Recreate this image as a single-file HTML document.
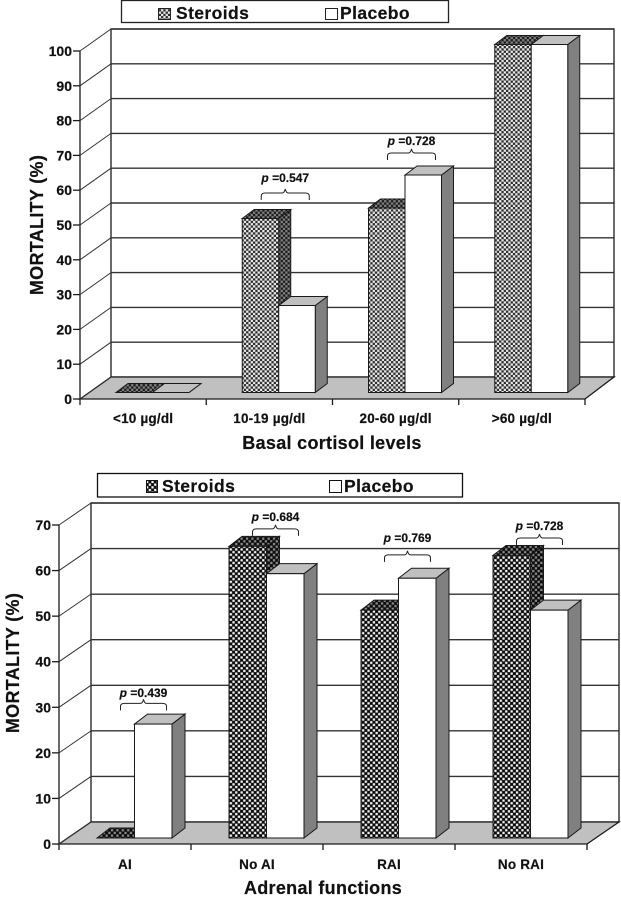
<!DOCTYPE html>
<html lang="en">
<head>
<meta charset="utf-8">
<title>Mortality by cortisol level and adrenal function</title>
<style>
html,body{margin:0;padding:0;background:#fff;}
svg{display:block;font-family:"Liberation Sans",Arial,sans-serif;}
text{fill:#111;font-weight:bold;stroke:#111;stroke-width:0.2;}
</style>
</head>
<body>
<svg id="figure" width="621" height="900" viewBox="0 0 621 900" xmlns="http://www.w3.org/2000/svg">
  <defs>
    <pattern id="dots-a" width="4.6" height="4.6" patternUnits="userSpaceOnUse">
      <rect width="4.6" height="4.6" fill="#2e2e2e"/>
      <rect x="0" y="0" width="2.3" height="2.3" fill="#e8e8e8"/>
      <rect x="2.3" y="2.3" width="2.3" height="2.3" fill="#e8e8e8"/>
    </pattern>
    <pattern id="dots-a-dark" width="4.6" height="4.6" patternUnits="userSpaceOnUse">
      <rect width="4.6" height="4.6" fill="#1c1c1c"/>
      <rect x="0" y="0" width="2.3" height="2.3" fill="#808080"/>
      <rect x="2.3" y="2.3" width="2.3" height="2.3" fill="#808080"/>
    </pattern>
    <pattern id="dots-b" width="5.4" height="5.4" patternUnits="userSpaceOnUse">
      <rect width="5.4" height="5.4" fill="#0c0c0c"/>
      <rect x="0.2" y="0.2" width="2.3" height="2.3" fill="#f4f4f4"/>
      <rect x="2.9" y="2.9" width="2.3" height="2.3" fill="#f4f4f4"/>
    </pattern>
    <pattern id="dots-b-dark" width="5.4" height="5.4" patternUnits="userSpaceOnUse">
      <rect width="5.4" height="5.4" fill="#0c0c0c"/>
      <rect x="0.2" y="0.2" width="2.3" height="2.3" fill="#8a8a8a"/>
      <rect x="2.9" y="2.9" width="2.3" height="2.3" fill="#8a8a8a"/>
    </pattern>
  </defs>

  <g id="chart-top"></g>
  <g id="chart-bottom"></g>

  <g>
    <rect x="121.5" y="0.5" width="327" height="22" fill="#fff" stroke="#222" stroke-width="1.3"/>
    <rect x="158.5" y="8.5" width="12" height="11" fill="url(#dots-a)" stroke="#222"/>
    <text x="176" y="19" font-size="17.5" letter-spacing="0.4">Steroids</text>
    <rect x="325.5" y="8.5" width="12" height="11" fill="#fff" stroke="#222"/>
    <text x="340" y="19" font-size="17.5" letter-spacing="0.4">Placebo</text>
  </g>
  <g>
    <rect x="97.5" y="473.5" width="365" height="23.5" fill="#fff" stroke="#111" stroke-width="1.3"/>
    <rect x="146.5" y="480.5" width="11" height="12" fill="url(#dots-b)" stroke="#111"/>
    <text x="162" y="492" font-size="17.5" letter-spacing="0.4">Steroids</text>
    <rect x="329.5" y="480.5" width="12" height="12" fill="#fff" stroke="#111"/>
    <text x="344" y="492" font-size="17.5" letter-spacing="0.4">Placebo</text>
  </g>
</svg>

<script>
// Top chart data
const cortisolCategories = ['<10 µg/dl', '10-19 µg/dl', '20-60 µg/dl', '>60 µg/dl'];
const cortisolSteroids = [0, 50, 53, 100];
const cortisolPlacebo = [0, 25, 62.5, 100];
const cortisolTicks = [0, 10, 20, 30, 40, 50, 60, 70, 80, 90, 100];
const cortisolPValues = [null, '0.547', '0.728', null];
const cortisolBraceLevels = [null, 55.3, 66.8, null];
const cortisolLabelLevels = [null, 60.5, 71.1, null];

// Bottom chart data
const adrenalCategories = ['AI', 'No AI', 'RAI', 'No RAI'];
const adrenalSteroids = [0, 64, 50, 62];
const adrenalPlacebo = [25, 58, 57, 50];
const adrenalTicks = [0, 10, 20, 30, 40, 50, 60, 70];
const adrenalPValues = ['0.439', '0.684', '0.769', '0.728'];
const adrenalBraceLevels = [28, 66.3, 60.6, 64.3];
const adrenalLabelLevels = [30.9, 69.6, 65, 67.6];

const NS = 'http://www.w3.org/2000/svg';

function make(parent, tag, attrs, text) {
  const node = document.createElementNS(NS, tag);
  for (const key in attrs) node.setAttribute(key, attrs[key]);
  if (text !== undefined) node.textContent = text;
  parent.appendChild(node);
  return node;
}

function pts(list) {
  return list.map(p => p[0] + ',' + p[1]).join(' ');
}

function drawChart(root, opt, categories, steroids, placebo, ticks, pValues, braceLevels, labelLevels) {
  const maxTick = ticks[ticks.length - 1];
  const yFront = v => opt.yZero - v * (opt.yZero - opt.yMax) / maxTick;
  const yBar = v => opt.barBase - v * (opt.yZero - opt.yMax) / maxTick;
  const slot = (opt.xRight - opt.xLeft) / categories.length;
  const xGroup = i => opt.barStart + i * slot;
  const ink = '#1a1a1a';
  const backLeft = opt.xLeft + opt.dx;

  // back wall
  const wall = make(root, 'rect', {
    x: backLeft, y: yFront(maxTick) - opt.dy,
    width: opt.wallRight - backLeft, height: opt.yZero - yFront(maxTick),
    fill: '#fff', stroke: ink, 'stroke-width': 1.3
  });
  
  

  // floor
  const floor = make(root, 'polygon', {
    points: pts([[opt.xLeft, opt.yZero], [backLeft, opt.yZero - opt.dy],
      [opt.wallRight, opt.yZero - opt.dy], [opt.xRight, opt.yZero]]),
    fill: '#c0c0c0', stroke: ink, 'stroke-width': 1.3
  });
  
  

  // side wall vertical
  const leftAxis = make(root, 'line', {
    x1: opt.xLeft, x2: opt.xLeft, y1: yFront(maxTick), y2: opt.yZero + 6,
    stroke: ink, 'stroke-width': 1.3
  });
  
  

  // gridlines, ticks, tick labels
  ticks.forEach(t => {
    const y = yFront(t);
    if (t > 0) {
      const grid = make(root, 'line', {
        x1: backLeft, x2: opt.wallRight, y1: y - opt.dy, y2: y - opt.dy,
        stroke: '#333', 'stroke-width': 1.4
      });
      
      
    }
    const diag = make(root, 'line', {
      x1: opt.xLeft, x2: backLeft, y1: y, y2: y - opt.dy,
      stroke: '#333', 'stroke-width': 1
    });
    
    
    const tick = make(root, 'line', {
      x1: opt.xLeft - 7, x2: opt.xLeft, y1: y, y2: y, stroke: ink, 'stroke-width': 1.3
    });
    
    
    const label = make(root, 'text', {
      x: opt.xLeft - 8, y: y + 5, 'text-anchor': 'end', 'font-size': 14
    }, String(t));
    
    
  });

  // x axis ticks
  categories.forEach((c, i) => {
    const x = opt.xLeft + (i + 1) * slot;
    const tick = make(root, 'line', {
      x1: x, x2: x, y1: opt.yZero, y2: opt.yZero + 6, stroke: ink, 'stroke-width': 1.3
    });
    
    
    const label = make(root, 'text', {
      x: opt.xLeft + (i + 0.5) * slot, y: opt.catY, 'text-anchor': 'middle', 'font-size': 13.5,
      'letter-spacing': 0.2
    }, c);
    
    
  });

  // bars
  const drawBar = (x, value, front, side, top, key) => {
    const w = opt.barW, d = opt.bx, h = opt.by;
    const yt = yBar(value), yb = opt.barBase;
    const g = make(root, 'g', {});
    
    
    make(g, 'polygon', {
      points: pts([[x + w, yt], [x + w + d, yt - h], [x + w + d, yb - h], [x + w, yb]]),
      fill: side, stroke: ink, 'stroke-width': 1
    });
    make(g, 'polygon', {
      points: pts([[x, yt], [x + d, yt - h], [x + w + d, yt - h], [x + w, yt]]),
      fill: top, stroke: ink, 'stroke-width': 1
    });
    if (value > 0) {
      make(g, 'rect', {
        x: x, y: yt, width: w, height: yb - yt, fill: front, stroke: ink, 'stroke-width': 1
      });
    }
  };

  categories.forEach((c, i) => {
    const x = xGroup(i);
    drawBar(x, steroids[i], opt.pat, opt.patDark, opt.patDark, 'steroids-' + i);
    drawBar(x + opt.barW, placebo[i], '#fff', '#808080', '#c0c0c0', 'placebo-' + i);
  });

  // p-value brackets
  categories.forEach((c, i) => {
    if (pValues[i] === null) return;
    const cx = xGroup(i) + opt.barW + opt.braceShift;
    const by = yBar(braceLevels[i]);
    const bw = opt.braceHalf;
    const brace = make(root, 'path', {
      d: 'M' + (cx - bw) + ' ' + by + 'v-4q0 -3 4 -3H' + (cx - 3) + 'q2 0 3 -4q1 4 3 4H' +
        (cx + bw - 4) + 'q4 0 4 3v4',
      fill: 'none', stroke: '#222', 'stroke-width': 1
    });
    
    
    const label = make(root, 'text', {
      x: cx, y: yBar(labelLevels[i]), 'text-anchor': 'middle', 'font-size': 12
    });
    
    
    make(label, 'tspan', { 'font-style': 'italic' }, 'p ');
    make(label, 'tspan', {}, '=' + pValues[i]);
  });

  // axis titles
  const yTitle = make(root, 'text', {
    transform: 'translate(' + opt.yTitleX + ' ' + opt.yTitleY + ') rotate(-90)',
    'text-anchor': 'middle', 'font-size': 18, 'letter-spacing': 0.3
  }, 'MORTALITY (%)');
  
  
  const xTitle = make(root, 'text', {
    x: opt.xTitleX, y: opt.xTitleY, 'text-anchor': 'middle', 'font-size': 18, 'letter-spacing': 0.3
  }, opt.xTitle);
  
  
}

drawChart(document.getElementById('chart-top'), {
  xLeft: 80, xRight: 585, wallRight: 614, yZero: 399, yMax: 51, dx: 31, dy: 22,
  barStart: 242 - 126, barBase: 392.5, barW: 36.5, bx: 12, by: 9,
  braceShift: 6.5, braceHalf: 24,
  pat: 'url(#dots-a)', patDark: 'url(#dots-a-dark)',
  catY: 423, xTitle: 'Basal cortisol levels', xTitleX: 332, xTitleY: 449,
  yTitleX: 43, yTitleY: 225
}, cortisolCategories, cortisolSteroids, cortisolPlacebo, cortisolTicks, cortisolPValues,
   cortisolBraceLevels, cortisolLabelLevels);

drawChart(document.getElementById('chart-bottom'), {
  xLeft: 59, xRight: 587, wallRight: 619, yZero: 844, yMax: 525, dx: 32, dy: 22,
  barStart: 97, barBase: 838, barW: 37.5, bx: 13, by: 10,
  braceShift: 9, braceHalf: 23,
  pat: 'url(#dots-b)', patDark: 'url(#dots-b-dark)',
  catY: 869, xTitle: 'Adrenal functions', xTitleX: 323, xTitleY: 894,
  yTitleX: 19, yTitleY: 663
}, adrenalCategories, adrenalSteroids, adrenalPlacebo, adrenalTicks, adrenalPValues,
   adrenalBraceLevels, adrenalLabelLevels);
</script>
</body>
</html>
